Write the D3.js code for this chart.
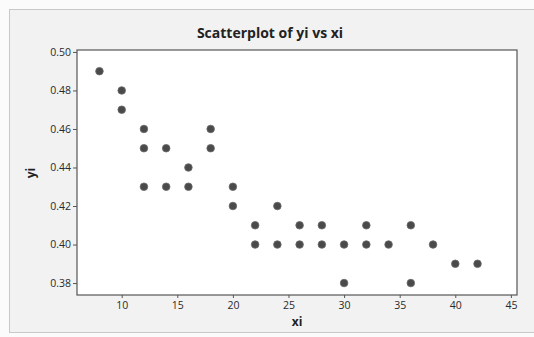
<!DOCTYPE html>
<html><head><meta charset="utf-8">
<script src="https://cdn.jsdelivr.net/npm/d3@7"></script>
<style>
html,body{margin:0;padding:0;background:#fff;}
svg{display:block;}
text{font-family:"Open Sans","DejaVu Sans",sans-serif;}
</style></head>
<body>
<svg id="chart" width="534" height="337"></svg>
<script>
const xi = [8,10,10,12,12,12,14,14,16,16,18,18,20,20,22,22,24,24,26,26,28,28,30,30,32,32,34,36,36,38,40,42];
const yi = [0.49,0.48,0.47,0.46,0.45,0.43,0.45,0.43,0.44,0.43,0.46,0.45,0.43,0.42,0.41,0.40,0.42,0.40,0.41,0.40,0.41,0.40,0.40,0.38,0.41,0.40,0.40,0.41,0.38,0.40,0.39,0.39];
const xTicks = [10,15,20,25,30,35,40,45];
const yTicks = [0.38,0.40,0.42,0.44,0.46,0.48,0.50];
const title = "Scatterplot of yi vs xi";
const xLabel = "xi", yLabel = "yi";

const svg = d3.select("#chart");
svg.append("rect").attr("x",0).attr("y",0).attr("width",534).attr("height",337).attr("fill","#fbfbfb");
svg.append("rect").attr("x",9.5).attr("y",9.5).attr("width",530).attr("height",323)
  .attr("fill","#f2f2f2").attr("stroke","#c8c8c8").attr("stroke-width",1);

const L=77, R=517, T=50, B=295;
const x = d3.scaleLinear().domain([5.98,45.55]).range([L,R]);
const y = d3.scaleLinear().domain([0.3738,0.5010]).range([B,T]);

svg.append("rect").attr("x",L).attr("y",T).attr("width",R-L).attr("height",B-T)
  .attr("fill","#fff").attr("stroke","#555").attr("stroke-width",1.2);

const gx = svg.append("g").attr("transform",`translate(0,${B})`)
  .call(d3.axisBottom(x).tickValues(xTicks).tickSize(3).tickPadding(4).tickFormat(d3.format("d")));
const gy = svg.append("g").attr("transform",`translate(${L},0)`)
  .call(d3.axisLeft(y).tickValues(yTicks).tickSize(4).tickPadding(2).tickFormat(d3.format(".2f")));
[gx,gy].forEach(g=>{
  g.select(".domain").remove();
  g.selectAll(".tick line").attr("stroke","#555");
  g.selectAll(".tick text").attr("fill","#2a2a2a").style("font-size","10.5px");
});

svg.append("g").selectAll("circle").data(xi.map((d,i)=>[d,yi[i]])).join("circle")
  .attr("cx",d=>x(d[0])).attr("cy",d=>y(d[1])).attr("r",3.8)
  .attr("fill","#4a4a4a").attr("stroke","#6a6a6a").attr("stroke-width",0.8);

svg.append("text").attr("x",270).attr("y",38).attr("text-anchor","middle")
  .style("font-size","14px").style("font-weight","bold").attr("fill","#222").text(title);
svg.append("text").attr("x",297).attr("y",326).attr("text-anchor","middle")
  .style("font-size","12px").style("font-weight","bold").attr("fill","#222").text(xLabel);
svg.append("text").attr("transform","translate(35,173) rotate(-90)").attr("text-anchor","middle")
  .style("font-size","12px").style("font-weight","bold").attr("fill","#222").text(yLabel);
</script>
</body></html>
